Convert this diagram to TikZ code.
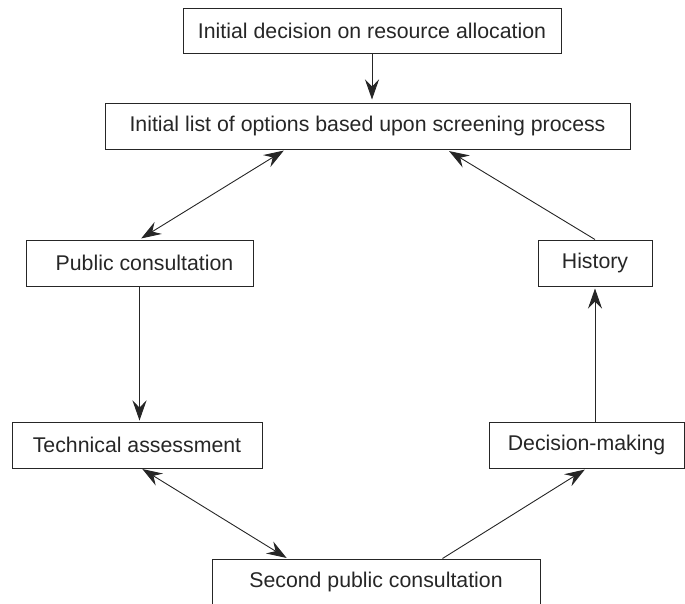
\documentclass[tikz,border=0pt]{standalone}
\usepackage{fontspec}
\setmainfont{Liberation Sans}
\usetikzlibrary{arrows.meta}
\begin{document}
\begin{tikzpicture}[x=1pt,y=-1pt,
  box/.style={draw=black!85, line width=1pt, minimum height=46pt, inner sep=0pt, font=\fontsize{21.3}{25}\selectfont, text=black!85},
  tip/.style={Stealth[length=20pt,width=14pt,inset=7pt]},
  conn/.style={line width=0.9pt, draw=black!85, -{Stealth[length=20pt,width=14pt,inset=7pt]}},
  dconn/.style={line width=0.9pt, draw=black!85, {Stealth[length=20pt,width=14pt,inset=7pt]}-{Stealth[length=20pt,width=14pt,inset=7pt]}}]
\useasboundingbox (0,0) rectangle (685,603);
\begin{scope}
\clip (0,0) rectangle (685,603);
\node[box, minimum width=378pt, minimum height=45pt] (b1) at (372,30.5) {Initial decision on resource allocation};
\node[box, minimum width=525pt] (b2) at (367.5,126) {Initial list of options based upon screening process};
\node[box, minimum width=227pt] (pub) at (139.5,263) {\hspace{10pt}Public consultation};
\node[box, minimum width=114pt] (hist) at (595,263) {History};
\node[box, minimum width=250pt] (tech) at (137,445) {Technical assessment};
\node[box, minimum width=195pt] (dec) at (586.5,445) {Decision-making};
\node[box, minimum width=328pt] (sec) at (376,582) {Second public consultation};
\end{scope}
\draw[conn, shorten >=3pt] (b1.south) -- (b1.south |- b2.north);
\draw[dconn, shorten >=2pt, shorten <=2pt] ([xshift=181pt]b2.south west) -- (pub.north);
\draw[conn, shorten >=3pt] (hist.north) -- ([xshift=342pt]b2.south west);
\draw[conn, shorten >=2pt] (dec.north -| hist.south) -- (hist.south);
\draw[conn, shorten >=1pt] (pub.south) -- (tech.north -| pub.south);
\draw[dconn, shorten >=1pt, shorten <=1pt] ([xshift=130pt]tech.south west) -- ([xshift=76pt]sec.north west);
\draw[conn, shorten >=2pt] ([xshift=231pt]sec.north west) -- (dec.south);
\end{tikzpicture}
\end{document}
